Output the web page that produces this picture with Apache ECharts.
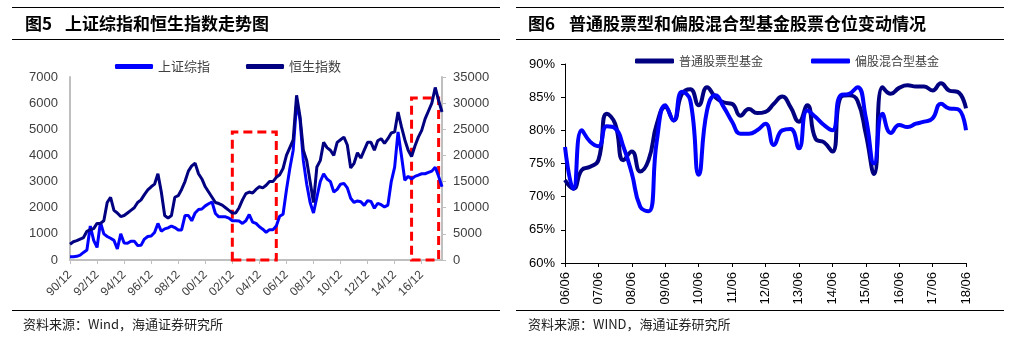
<!DOCTYPE html>
<html><head><meta charset="utf-8">
<script src="https://cdn.jsdelivr.net/npm/echarts@6/dist/echarts.min.js"></script>
<style>html,body{margin:0;padding:0;background:#fff}#c{width:1024px;height:357px}</style>
</head><body><div id="c"></div>
<script>
// ---------- data: chart 5 (quarterly, 90/12 .. 18/06) ----------
function quarterLabels(y0, m0, n) {
  const out = []; let y = y0, m = m0;
  for (let i = 0; i < n; i++) {
    out.push(String(y % 100).padStart(2, '0') + '/' + String(m).padStart(2, '0'));
    m += 3; if (m > 12) { m -= 12; y++; }
  }
  return out;
}
const leftCategories = quarterLabels(1990, 12, 111);
const sseValues = [
  127,125,140,185,290,380,1300,750,480,1450,
  1000,900,830,750,420,1000,650,640,720,720,
  555,560,800,900,920,1050,1400,1100,1190,1230,
  1300,1240,1150,1150,1700,1700,1500,1800,1930,1950,
  2070,2150,2220,1780,1650,1650,1650,1600,1500,1500,
  1490,1400,1500,1740,1450,1400,1270,1180,1060,1160,
  1160,1300,1670,1750,2675,3500,4200,6000,5400,3800,
  2900,2200,1800,2400,3000,3300,3100,3000,2600,2700,
  2900,2930,2760,2360,2200,2260,2230,2090,2270,2240,
  1980,2170,2115,2030,2100,3000,3550,4900,4000,3050,
  3200,3100,3200,3250,3300,3300,3350,3400,3550,3200,
  2800
];
const hsiValues = [
  3025,3500,3700,4000,4300,5500,5800,6000,7000,7000,
  7500,11000,12000,9500,9000,8300,8500,9000,9500,10000,
  11000,11500,12500,13400,14000,14500,16500,13000,8500,8000,
  8500,12000,12300,13500,15000,17000,18000,18500,16500,15500,
  14000,13000,12000,11000,10800,10500,10000,9500,9000,9000,
  10000,11500,12700,13000,12800,13500,14000,13800,14300,15000,
  15000,15800,16300,17500,20000,21500,23000,31500,27500,21000,
  19000,15000,11000,17800,19000,22500,21500,21000,20000,22500,
  23000,23500,22000,17600,18500,20500,19500,21000,22500,22500,
  21000,22800,23200,22300,23200,24300,24500,28300,25500,23000,
  21000,19800,21800,23500,24800,27000,28500,30000,33000,30500,
  28300
];
const leftTicksSSE = [0, 7000, 1000];
const leftTicksHSI = [0, 35000, 5000];
// highlighted periods (category from, category to, top value on SSE axis)
const box1 = ['02/12', '06/03', 4900];
const box2 = ['16/03', '18/03', 6200];

// ---------- data: chart 6 (quarterly, 06/06 .. 18/06) ----------
const rightCategories = quarterLabels(2006, 6, 49);
const stockFund = [
  72.5,71.2,74.0,74.5,75.5,82.5,81.0,75.5,76.8,73.8,
  75.5,81.0,83.5,81.5,85.5,86.2,83.8,86.5,85.0,84.2,
  84.0,82.2,83.2,82.6,82.8,84.0,85.1,83.5,81.3,83.8,
  78.7,78.2,76.8,85.0,85.3,84.5,79.5,73.4,86.5,85.5,
  86.4,86.8,86.6,86.6,86.0,87.1,86.0,85.8,83.3
];
const hybridFund = [
  77.5,71.2,80.0,78.3,77.6,80.6,80.3,77.5,73.5,68.5,
  67.8,78.5,83.8,81.5,85.8,84.5,73.3,83.0,85.3,83.5,
  81.3,79.5,79.5,80.0,81.0,77.8,80.0,80.2,77.3,83.0,
  82.0,80.8,80.0,85.3,85.5,86.5,82.0,75.0,82.5,79.6,
  80.8,80.5,81.0,81.3,81.8,84.0,83.3,83.2,80.0
];
const rightTicks = [60, 90, 5];

// ---------- chart ----------
const LAT = "'Liberation Sans', 'Noto Sans CJK SC', sans-serif";
const CJK = "'Noto Sans CJK SC', 'Liberation Sans', sans-serif";
const grey = '#bfbfbf';
const navy = '#000080';
const blue = '#0000ff';

function rule(x1, x2, y) {
  return {type: 'line', shape: {x1: x1, y1: y, x2: x2, y2: y}, style: {stroke: '#000', lineWidth: 1}, silent: true};
}
function txt(x, y, text, size, weight, color) {
  return {type: 'text', x: x, y: y, silent: true,
    style: {text: text, fontSize: size, fontWeight: weight, fontFamily: CJK, fill: color, verticalAlign: 'middle'}};
}

const chart = echarts.init(document.getElementById('c'), null, {renderer: 'canvas'});
chart.setOption({
  backgroundColor: '#fff',
  animation: false,
  graphic: [
    rule(12, 500, 7.5), rule(12, 500, 39.5), rule(12, 500, 310.5),
    rule(516, 1004, 7.5), rule(516, 1004, 39.5), rule(516, 1004, 310.5),
    txt(25, 24, '图5', 17, 'bold', '#000'),
    txt(65, 24, '上证综指和恒生指数走势图', 17, 'bold', '#000'),
    txt(528, 24, '图6', 17, 'bold', '#000'),
    txt(569, 24, '普通股票型和偏股混合型基金股票仓位变动情况', 17, 'bold', '#000'),
    txt(23, 324, '资料来源：Wind，海通证券研究所', 13, 'normal', '#222'),
    txt(528, 324, '资料来源：WIND，海通证券研究所', 13, 'normal', '#222')
  ],
  legend: [
    {data: ['上证综指', '恒生指数'], left: 115, top: 60, padding: 0, itemWidth: 38, itemHeight: 5, itemGap: 36,
     icon: 'roundRect', textStyle: {fontSize: 13, color: '#404040', fontFamily: CJK}},
    {data: ['普通股票型基金', '偏股混合型基金'], left: 635, top: 55, padding: 0, itemWidth: 39, itemHeight: 5, itemGap: 48,
     icon: 'roundRect', textStyle: {fontSize: 12, color: '#404040', fontFamily: CJK}}
  ],
  grid: [
    {left: 70, top: 77, width: 372, height: 183, containLabel: false},
    {left: 565, top: 64, width: 401, height: 199, containLabel: false}
  ],
  xAxis: [
    {type: 'category', gridIndex: 0, data: leftCategories, boundaryGap: false,
     axisLine: {lineStyle: {color: grey, width: 2}},
     axisTick: {show: true, interval: 7, length: 4, lineStyle: {color: grey, width: 1}},
     axisLabel: {interval: 7, rotate: 45, fontSize: 12, color: '#404040', margin: 13, fontFamily: LAT},
     splitLine: {show: false}},
    {type: 'category', gridIndex: 1, data: rightCategories, boundaryGap: false,
     axisLine: {lineStyle: {color: '#000', width: 1}},
     axisTick: {show: true, interval: 3, length: 4, lineStyle: {color: '#000'}},
     axisLabel: {interval: 3, rotate: 90, fontSize: 13, color: '#000', margin: 9, fontFamily: LAT},
     splitLine: {show: false}}
  ],
  yAxis: [
    {type: 'value', gridIndex: 0, min: leftTicksSSE[0], max: leftTicksSSE[1], interval: leftTicksSSE[2],
     axisLine: {show: true, lineStyle: {color: grey, width: 2}}, axisTick: {show: false},
     axisLabel: {fontSize: 13, color: '#404040', margin: 12, fontFamily: LAT, formatter: v => String(v)},
     splitLine: {show: false}},
    {type: 'value', gridIndex: 0, position: 'right', min: leftTicksHSI[0], max: leftTicksHSI[1], interval: leftTicksHSI[2],
     axisLine: {show: true, lineStyle: {color: grey, width: 2}},
     axisTick: {show: true, length: 4, lineStyle: {color: grey}},
     axisLabel: {fontSize: 13, color: '#404040', margin: 11, fontFamily: LAT, formatter: v => String(v)},
     splitLine: {show: false}},
    {type: 'value', gridIndex: 1, min: rightTicks[0], max: rightTicks[1], interval: rightTicks[2],
     axisLine: {show: true, lineStyle: {color: '#000', width: 1}},
     axisTick: {show: true, length: 4, lineStyle: {color: '#000'}},
     axisLabel: {fontSize: 13, color: '#000', margin: 10, fontFamily: LAT, formatter: '{value}%'},
     splitLine: {show: false}}
  ],
  series: [
    {name: '上证综指', type: 'line', xAxisIndex: 0, yAxisIndex: 0, data: sseValues, showSymbol: false,
     lineStyle: {color: blue, width: 3}, itemStyle: {color: blue}},
    {name: '恒生指数', type: 'line', xAxisIndex: 0, yAxisIndex: 1, data: hsiValues, showSymbol: false,
     lineStyle: {color: navy, width: 3}, itemStyle: {color: navy}},
    {name: 'boxes', type: 'line', xAxisIndex: 0, yAxisIndex: 0, data: [], z: 10,
     markArea: {silent: true,
       itemStyle: {color: 'rgba(0,0,0,0)', borderColor: '#ff0000', borderWidth: 3, borderType: [9, 5]},
       data: [
         [{xAxis: box1[0], yAxis: 0}, {xAxis: box1[1], yAxis: box1[2]}],
         [{xAxis: box2[0], yAxis: 0}, {xAxis: box2[1], yAxis: box2[2]}]
       ]}},
    {name: '普通股票型基金', type: 'line', xAxisIndex: 1, yAxisIndex: 2, data: stockFund, showSymbol: false,
     smooth: 0.5, lineStyle: {color: navy, width: 4}, itemStyle: {color: navy}},
    {name: '偏股混合型基金', type: 'line', xAxisIndex: 1, yAxisIndex: 2, data: hybridFund, showSymbol: false,
     smooth: 0.5, lineStyle: {color: blue, width: 4}, itemStyle: {color: blue}}
  ]
});
</script>
</body></html>
